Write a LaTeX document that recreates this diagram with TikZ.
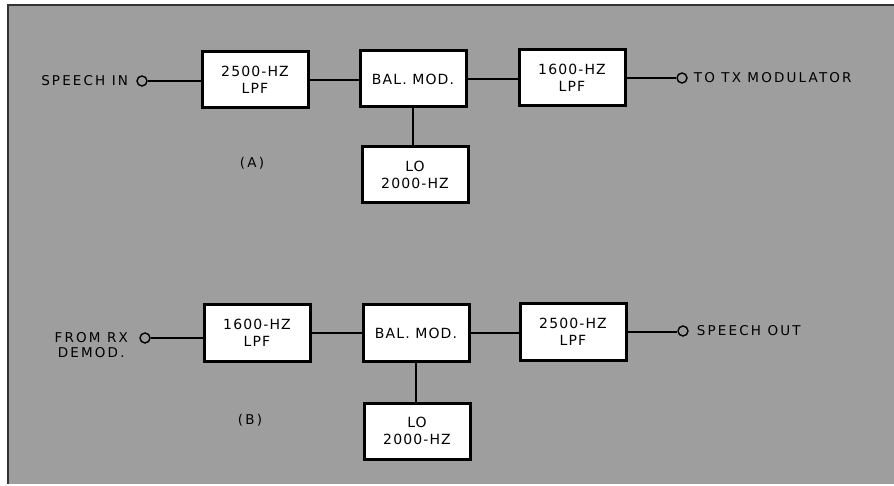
\documentclass[tikz,border=0pt]{standalone}
\usepackage{fontspec}
\setmainfont{DejaVu Sans}[LetterSpace=8]
\newfontfamily\lblfont{DejaVu Sans}[LetterSpace=16]
\usetikzlibrary{positioning}
\definecolor{halftone}{RGB}{158,158,158}
\tikzset{
  blk/.style={draw=black, line width=3pt, fill=white, align=center,
    font=\fontsize{14}{17}\selectfont, inner sep=0pt,
    minimum width=106pt, minimum height=56pt},
  term/.style={draw=black, line width=1.4pt, circle, minimum size=10pt, inner sep=0pt, fill=halftone},
  wire/.style={draw=black, line width=1.4pt},
  lbl/.style={font=\lblfont\fontsize{13.5}{15}\selectfont, inner sep=0pt, text=black, align=center}
}
\begin{document}
\begin{tikzpicture}[x=1pt,y=-1pt]
\useasboundingbox (0,0) rectangle (894,486);
\fill[white] (0,0) rectangle (894,486);
\fill[halftone] (8,5) rectangle (894,484);
\draw[line width=1.2pt, black!80] (8,484) -- (8,5) -- (894,5);

% ---- (A) ----
\node[blk] (lpfA1) at (255,80) {2500-HZ\\LPF};
\node[blk] (balA) at (413,79) {BAL. MOD.};
\node[blk] (lpfA2) at (572,78) {1600-HZ\\LPF};
\node[blk] (loA) at (415,175) {LO\\2000-HZ};
\node[term] (inA) at (142,81) {};
\node[term] (outA) at (682,78) {};
\node[lbl, left=8pt of inA] (tinA) {SPEECH IN};
\node[lbl, right=6pt of outA] (toutA) {TO TX MODULATOR};
\node[lbl] (capA) at (252,163) {(A)};

\draw[wire] (inA) -- (inA -| lpfA1.west);
\draw[wire] (lpfA1.east) -- (lpfA1.east -| balA.west);
\draw[wire] (balA.east) -- (balA.east -| lpfA2.west);
\draw[wire] (lpfA2.east) -- (lpfA2.east -| outA.west);
\draw[wire] (balA.south) -- (balA.south |- loA.north);

% ---- (B) ----
\node[blk] (lpfB1) at (257,333) {1600-HZ\\LPF};
\node[blk] (balB) at (416,333) {BAL. MOD.};
\node[blk] (lpfB2) at (573,332) {2500-HZ\\LPF};
\node[blk] (loB) at (417,431) {LO\\2000-HZ};
\node[term] (inB) at (145,338) {};
\node[term] (outB) at (683,331) {};
\node[lbl, anchor=east] (tinB) at (128,345) {FROM RX\\DEMOD.};
\node[lbl, right=8pt of outB] (toutB) {SPEECH OUT};
\node[lbl] (capB) at (250,420) {(B)};

\draw[wire] (inB) -- (inB -| lpfB1.west);
\draw[wire] (lpfB1.east) -- (lpfB1.east -| balB.west);
\draw[wire] (balB.east) -- (balB.east -| lpfB2.west);
\draw[wire] (lpfB2.east) -- (lpfB2.east -| outB.west);
\draw[wire] (balB.south) -- (balB.south |- loB.north);
\end{tikzpicture}
\end{document}
